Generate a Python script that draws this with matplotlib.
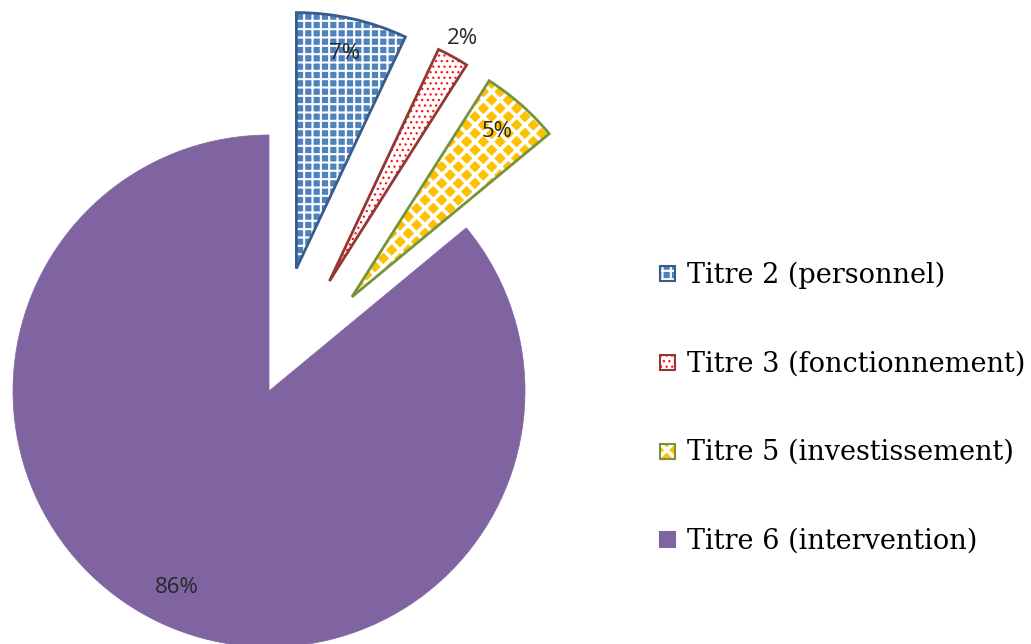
import matplotlib
matplotlib.use("Agg")
import matplotlib.pyplot as plt
import matplotlib.patches as mpatches
from matplotlib.legend_handler import HandlerPatch
import numpy as np

categories = ["Titre 2 (personnel)", "Titre 3 (fonctionnement)",
              "Titre 5 (investissement)", "Titre 6 (intervention)"]
values = [7, 2, 5, 86]
pct_labels = ["7%", "2%", "5%", "86%"]

W, H = 1031, 644
fig = plt.figure(figsize=(W / 100, H / 100), dpi=100)
ax = fig.add_axes([0, 0, 1, 1])
R = 256.0
cx, cy = 269.0, H - 391.0

explode = [0.49, 0.49, 0.49, 0.0]
wedges, _ = ax.pie(values, explode=explode, startangle=90, counterclock=False,
                   radius=1.0, center=(0, 0), frame=True)
ax.set_xlim(-cx / R, (W - cx) / R)
ax.set_ylim(-cy / R, (H - cy) / R)
ax.set_aspect('equal')
ax.axis('off')

styles = [
    dict(fc='#4F81BD', hatch='++', hc='white', ec='#385D8A', hlw=1.5),
    dict(fc='white', hatch='...', hc='#FF1010', ec='#943634', hlw=0.9),
    dict(fc='#FFC000', hatch='xx', hc='white', ec='#77933C', hlw=2.6),
    dict(fc='#8064A2', hatch=None, hc=None, ec='#8064A2', hlw=1.0),
]


def set_hlw(p, lw):
    if hasattr(p, 'set_hatch_linewidth'):
        p.set_hatch_linewidth(lw)


handles = []
for w, st in zip(wedges, styles):
    w.set_facecolor(st['fc'])
    if st['hatch']:
        w.set_hatch(st['hatch'])
        w.set_edgecolor(st['hc'])
        w.set_linewidth(0)
        set_hlw(w, st['hlw'])
        o = mpatches.Wedge(w.center, w.r, w.theta1, w.theta2, fill=False,
                           edgecolor=st['ec'], linewidth=2.0)
        ax.add_patch(o)
        h = mpatches.Patch(facecolor=st['fc'], hatch=st['hatch'],
                           edgecolor=st['hc'], linewidth=0)
    else:
        w.set_edgecolor(st['ec'])
        w.set_linewidth(0.5)
        h = mpatches.Patch(facecolor=st['fc'], edgecolor=st['ec'], linewidth=0.5)
    handles.append(h)


class OutlinedHandler(HandlerPatch):
    def __init__(self, ec, hlw):
        super().__init__()
        self.ec = ec
        self.hlw = hlw

    def create_artists(self, legend, orig_handle, xdescent, ydescent, width,
                       height, fontsize, trans):
        size = min(width, height)
        p = mpatches.Rectangle((-xdescent, -ydescent), size, size,
                               facecolor=orig_handle.get_facecolor(),
                               hatch=orig_handle.get_hatch(),
                               edgecolor=orig_handle.get_edgecolor(),
                               linewidth=0, transform=trans)
        set_hlw(p, self.hlw)
        o = mpatches.Rectangle((-xdescent, -ydescent), size, size, fill=False,
                               edgecolor=self.ec, linewidth=1.5,
                               transform=trans)
        return [p, o]


hmap = {h: OutlinedHandler(st['ec'], st['hlw']) for h, st in zip(handles, styles)}

label_dist = [0.86, 1.08, 0.86, 0.85]
for w, lab, d in zip(wedges, pct_labels, label_dist):
    ang = np.deg2rad((w.theta1 + w.theta2) / 2)
    x = w.center[0] + d * w.r * np.cos(ang)
    y = w.center[1] + d * w.r * np.sin(ang)
    ax.text(x, y, lab, ha='center', va='center', fontsize=16,
            family='Open Sans', color='#262626')

leg = ax.legend(handles, categories, handler_map=hmap,
                loc='center left', bbox_to_anchor=(660 / W, 1 - 408 / H),
                frameon=False, prop={'family': 'DejaVu Serif', 'size': 19.5},
                handlelength=0.55, handleheight=0.55, handletextpad=0.45,
                labelspacing=2.28, borderaxespad=0, borderpad=0)

fig.savefig("out.png", dpi=100)
